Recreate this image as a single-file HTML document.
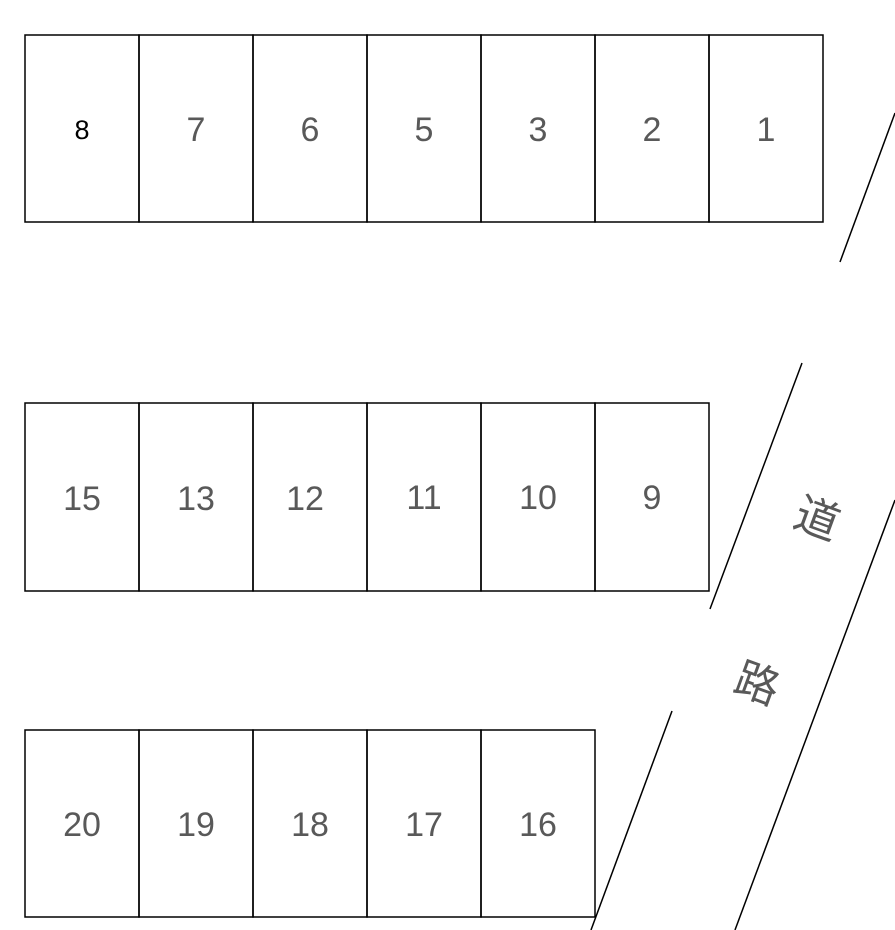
<!DOCTYPE html>
<html><head><meta charset="utf-8"><style>
html,body{margin:0;padding:0;background:#fff;}
svg{display:block}
</style></head><body>
<svg width="895" height="930" viewBox="0 0 895 930" xmlns="http://www.w3.org/2000/svg">
<g fill="none" stroke="#000" stroke-width="1.5">
<rect x="25" y="35" width="114" height="187"/>
<rect x="139" y="35" width="114" height="187"/>
<rect x="253" y="35" width="114" height="187"/>
<rect x="367" y="35" width="114" height="187"/>
<rect x="481" y="35" width="114" height="187"/>
<rect x="595" y="35" width="114" height="187"/>
<rect x="709" y="35" width="114" height="187"/>
<rect x="25" y="403" width="114" height="188"/>
<rect x="139" y="403" width="114" height="188"/>
<rect x="253" y="403" width="114" height="188"/>
<rect x="367" y="403" width="114" height="188"/>
<rect x="481" y="403" width="114" height="188"/>
<rect x="595" y="403" width="114" height="188"/>
<rect x="25" y="730" width="114" height="187"/>
<rect x="139" y="730" width="114" height="187"/>
<rect x="253" y="730" width="114" height="187"/>
<rect x="367" y="730" width="114" height="187"/>
<rect x="481" y="730" width="114" height="187"/>
<line x1="895" y1="113" x2="840" y2="262"/>
<line x1="802" y1="363" x2="710" y2="609"/>
<line x1="895" y1="500" x2="735" y2="930"/>
<line x1="672" y1="711" x2="591" y2="930"/>
</g>
<g font-family="Liberation Sans, sans-serif" font-size="34" fill="#595959" text-anchor="middle">
<text x="82" y="139" font-size="27" fill="#000">8</text>
<text x="196" y="141">7</text>
<text x="310" y="141">6</text>
<text x="424" y="141">5</text>
<text x="538" y="141">3</text>
<text x="652" y="141">2</text>
<text x="766" y="141">1</text>
<text x="82" y="510">15</text>
<text x="196" y="510">13</text>
<text x="305" y="510">12</text>
<text x="424" y="509">11</text>
<text x="538" y="509">10</text>
<text x="652" y="509">9</text>
<text x="82" y="836">20</text>
<text x="196" y="836">19</text>
<text x="310" y="836">18</text>
<text x="424" y="836">17</text>
<text x="538" y="836">16</text>
</g>
<g font-family="Liberation Sans, Noto Sans CJK JP, sans-serif" font-size="44" fill="#595959" text-anchor="middle">
<text transform="translate(812,533) rotate(20)">道</text>
<text transform="translate(752,698) rotate(20)">路</text>
</g>
</svg>
</body></html>
